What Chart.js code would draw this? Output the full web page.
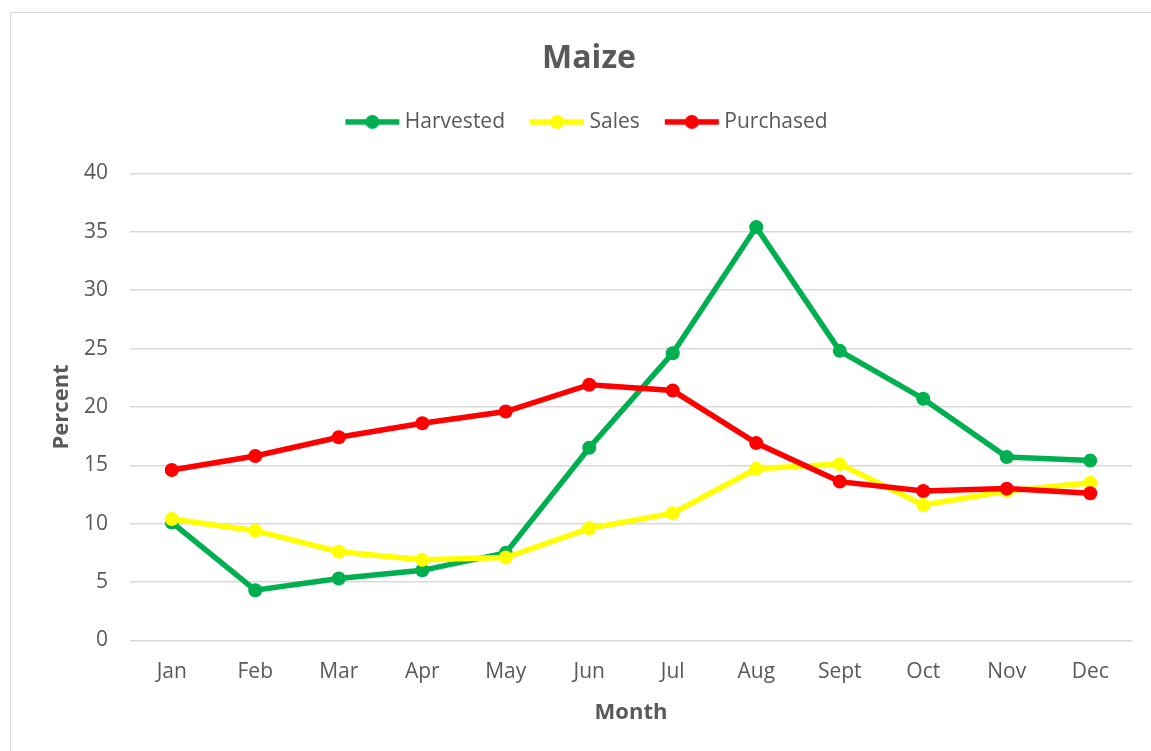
<!DOCTYPE html>
<html>
<head>
<meta charset="utf-8">
<script src="https://cdn.jsdelivr.net/npm/chart.js@4.4.1/dist/chart.umd.min.js"></script>
<style>
body{margin:0;background:#fff;overflow:hidden;}
#box{position:absolute;left:10px;top:12px;width:1156px;height:738px;border:1px solid #d9d9d9;}
</style>
</head>
<body>
<div id="box"><canvas id="maizeChart"></canvas></div>
<script>

// Data

const months =
["Jan","Feb","Mar","Apr","May","Jun","Jul","Aug","Sept","Oct","Nov","Dec"];

const harvested =
[10.1,4.3,5.3,6.0,7.5,16.5,24.6,35.4,24.8,20.7,15.7,15.4];

const sales =
[10.4,9.4,7.6,6.9,7.1,9.6,10.9,14.7,15.1,11.6,12.8,13.5];

const purchased =
[14.6,15.8,17.4,18.6,19.6,21.9,21.4,16.9,13.6,12.8,13.0,12.6];

const yTicks = [0,5,10,15,20,25,30,35,40];

const textColor = "#595959";
const font = "'Open Sans', sans-serif";

// legend marker: line with a dot

function marker(color){

let c = document.createElement("canvas");
c.width = 56;
c.height = 16;

let ctx = c.getContext("2d");
ctx.strokeStyle = color;
ctx.lineWidth = 5.5;
ctx.beginPath();
ctx.moveTo(1,8);
ctx.lineTo(55,8);
ctx.stroke();

ctx.fillStyle = color;
ctx.beginPath();
ctx.arc(28,8,7,0,Math.PI*2);
ctx.fill();

return c;

}

function series(label,data,color,order){

return {
label:label,
data:data,
borderColor:color,
backgroundColor:color,
pointBackgroundColor:color,
pointBorderWidth:0,
pointRadius:7,
pointHoverRadius:7,
borderWidth:5.5,
tension:0,
order:order,
legendMarker:marker(color)
};

}

const legendSpace = {

id:"legendSpace",

beforeInit(chart){

const fit = chart.legend.fit;

chart.legend.fit = function(){
fit.bind(chart.legend)();
this.height += 31;
};

}

};

new Chart(document.getElementById("maizeChart"),{

type:"line",

data:{

labels:months,

datasets:[
series("Harvested",harvested,"#00B050",3),
series("Sales",sales,"#FFFF00",2),
series("Purchased",purchased,"#FF0000",1)
]

},

options:{

responsive:true,
maintainAspectRatio:false,
animation:false,

layout:{padding:{left:0,right:0,top:0,bottom:0}},

plugins:{

title:{
display:true,
text:"Maize",
color:textColor,
font:{family:font,size:32,weight:"bold"},
padding:{top:27,bottom:3}
},

legend:{
position:"top",
labels:{
color:textColor,
font:{family:font,size:21},
usePointStyle:true,
pointStyleWidth:44,
padding:30,
sort:(a,b)=>a.datasetIndex-b.datasetIndex,
generateLabels(chart){
let items = Chart.defaults.plugins.legend.labels.generateLabels(chart);
items.forEach(item=>{
item.pointStyle = chart.data.datasets[item.datasetIndex].legendMarker;
});
return items;
}
}
},

tooltip:{enabled:false}

},

scales:{

x:{
offset:true,
grid:{display:false,drawTicks:false},
border:{display:false},
ticks:{color:textColor,font:{family:font,size:21},padding:19},
title:{
display:true,
text:"Month",
color:textColor,
font:{family:font,size:22,weight:"bold"},
padding:{top:-4,bottom:25}
}
},

y:{
min:0,
max:40,
afterBuildTicks(scale){
scale.ticks = yTicks.map(v=>({value:v}));
},
afterFit(scale){
scale.width = 119;
},
grid:{color:"#d9d9d9",lineWidth:1.5,drawTicks:false},
border:{display:false},
ticks:{color:textColor,font:{family:font,size:21},padding:22},
title:{
display:true,
text:"Percent",
color:textColor,
font:{family:font,size:22,weight:"bold"},
padding:{top:38,bottom:0}
}
},

// empty space on the right of the plot
yRight:{
position:"right",
grid:{display:false},
border:{display:false},
ticks:{display:false},
afterFit(scale){
scale.width = 35;
}
}

}

},

plugins:[legendSpace]

});

</script>
</body>
</html>
